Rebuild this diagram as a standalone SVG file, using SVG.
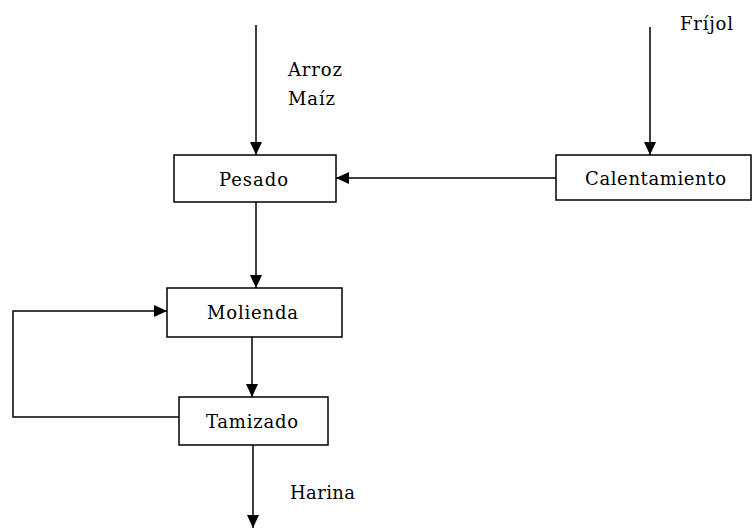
<svg xmlns="http://www.w3.org/2000/svg" width="752" height="529" viewBox="0 0 752 529">
<style>
.box{fill:#fff;stroke:#000;stroke-width:1.5}
.lbl{font-family:"DejaVu Serif","Liberation Serif",serif;font-size:18px;fill:#000}
.c{fill:none;stroke:#000;stroke-width:1.5}
</style>
<defs>
<marker id="ah" markerUnits="userSpaceOnUse" markerWidth="13" markerHeight="13" viewBox="0 0 13 13" refX="13" refY="6.5" orient="auto">
<path d="M0,0.5 L13,6.5 L0,12.5 z" fill="#000"/>
</marker>
</defs>
<rect width="752" height="529" fill="#fff"/>
<g id="connectors">
<path class="c" d="M256,25 V155" marker-end="url(#ah)"/>
<path class="c" d="M650,27 V155" marker-end="url(#ah)"/>
<path class="c" d="M556,178 H336" marker-end="url(#ah)"/>
<path class="c" d="M256,202 V288" marker-end="url(#ah)"/>
<path class="c" d="M252,337 V397" marker-end="url(#ah)"/>
<path class="c" d="M180,417 H13 V311 H167" marker-end="url(#ah)"/>
<path class="c" d="M253,445 V528" marker-end="url(#ah)"/>
</g>
<g id="pesado">
<rect class="box" x="174" y="155" width="162" height="47"/>
<text class="lbl" x="219" y="186" textLength="69" lengthAdjust="spacing">Pesado</text>
</g>
<g id="calentamiento">
<rect class="box" x="556" y="155" width="195" height="45"/>
<text class="lbl" x="585" y="185" textLength="141" lengthAdjust="spacing">Calentamiento</text>
</g>
<g id="molienda">
<rect class="box" x="167" y="288" width="175" height="49"/>
<text class="lbl" x="207" y="319" textLength="91" lengthAdjust="spacing">Molienda</text>
</g>
<g id="tamizado">
<rect class="box" x="179" y="397" width="149" height="48"/>
<text class="lbl" x="206" y="428" textLength="92" lengthAdjust="spacing">Tamizado</text>
</g>
<g id="labels">
<text class="lbl" x="288" y="76" textLength="54" lengthAdjust="spacing">Arroz</text>
<text class="lbl" x="288" y="105" textLength="47" lengthAdjust="spacing">Maíz</text>
<text class="lbl" x="680" y="30" textLength="53" lengthAdjust="spacing">Fríjol</text>
<text class="lbl" x="290" y="499" textLength="65" lengthAdjust="spacing">Harina</text>
</g>
</svg>
